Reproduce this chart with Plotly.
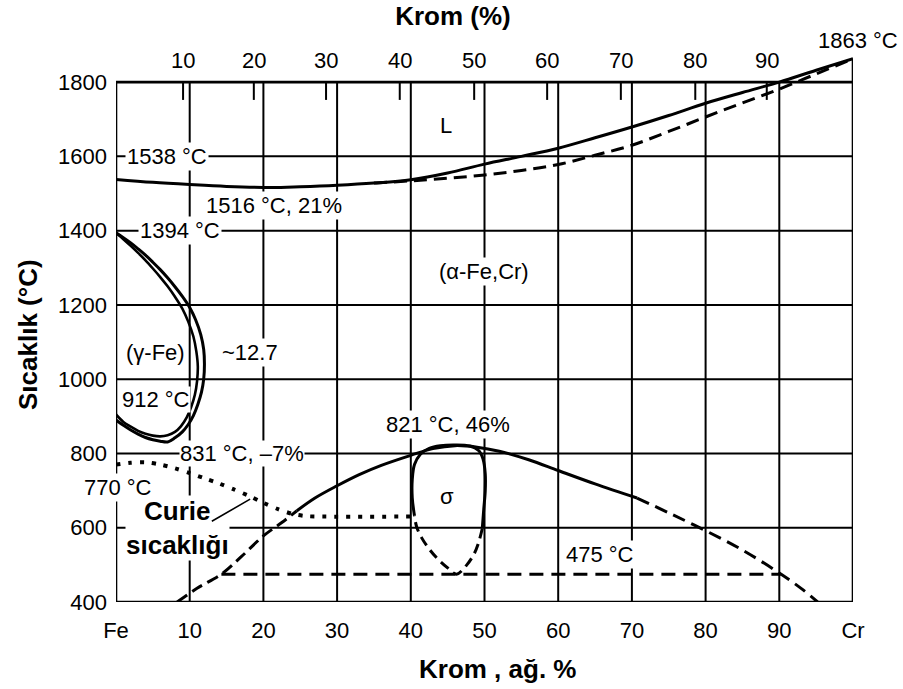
import plotly.graph_objects as go

# ---- axis / tick data -------------------------------------------------
temp_ticks = [400, 600, 800, 1000, 1200, 1400, 1600, 1800]
wt_ticks = [0, 10, 20, 30, 40, 50, 60, 70, 80, 90, 100]
wt_labels = ["Fe", "10", "20", "30", "40", "50", "60", "70", "80", "90", "Cr"]
# atomic-% scale along the top, placed on the weight-% axis
at_tick_pos = [9.1, 18.7, 28.5, 38.5, 48.6, 58.5, 68.5, 78.6, 88.3]
at_labels = ["10", "20", "30", "40", "50", "60", "70", "80", "90"]
cr_melt = 1863

# ---- phase boundaries (wt% Cr, °C) -----------------------------------
liq_x = [0, 5, 10, 15, 21, 25, 30, 35, 40, 45, 50, 55, 60, 65, 70, 75, 80, 85, 90, 95, 100]
liq_y = [1538, 1530, 1524, 1519, 1516, 1518, 1522, 1528, 1537, 1555, 1579, 1600, 1622, 1650, 1679, 1710, 1743, 1772, 1800, 1832, 1863]

sol_x = [35, 40, 45, 50, 55, 60, 65, 70, 75, 80, 85, 90, 95, 100]
sol_y = [1528, 1534, 1541, 1550, 1562, 1578, 1603, 1630, 1667, 1706, 1744, 1781, 1822, 1863]

gam_out_x = [0, 1, 2, 3, 4, 5, 6, 7, 8, 9, 10, 10.8, 11.5, 11.9, 12.0, 11.9, 11.6, 11.1, 10.5, 9.8, 9, 8, 7, 6, 5, 4, 3, 2, 1, 0]
gam_out_y = [1394, 1381, 1367, 1351, 1334, 1315, 1295, 1273, 1249, 1223, 1193, 1160, 1120, 1080, 1040, 1000, 965, 932, 902, 878, 858, 842, 831, 833, 837, 843, 852, 863, 876, 890]

gam_in_x = [0, 1, 2, 3, 4, 5, 6, 7, 8, 9, 9.8, 10.5, 10.9, 11.1, 11.0, 10.7, 10.2, 9.6, 8.8, 8, 7, 6, 5, 4, 3, 2, 1, 0]
gam_in_y = [1394, 1377, 1359, 1340, 1320, 1298, 1275, 1250, 1222, 1190, 1155, 1115, 1075, 1035, 995, 958, 925, 897, 873, 858, 849, 846, 848, 853, 861, 872, 885, 905]

curie_x = [0, 2, 4, 6, 8, 10, 12, 14, 16, 18, 20, 22, 24, 26, 28, 40.5]
curie_y = [770, 775, 776, 770, 760, 747, 733, 719, 703, 686, 667, 650, 637, 631, 630, 630]

dome_l_x = [8.3, 11, 14.3, 17, 20, 22.5, 24.5]
dome_l_y = [400, 437, 475, 522, 578, 614, 645]
dome_x = [24.5, 27, 30, 33, 36, 40, 43, 46, 49, 52, 56, 60, 65, 70.7]
dome_y = [645, 680, 713, 743, 768, 795, 813, 821, 817, 806, 783, 754, 718, 680]
dome_r_x = [70.7, 75, 80, 85, 90, 93, 95.2]
dome_r_y = [680, 640, 592, 540, 478, 436, 400]

sig_solid_x = [40.5, 40.2, 40.2, 40.5, 41.3, 42.5, 44, 46, 48, 49.2, 49.8, 50.1, 50.1, 49.9, 49.7]
sig_solid_y = [632, 680, 730, 770, 798, 814, 821, 823, 820, 808, 785, 745, 700, 650, 598]
sig_dash_x = [49.7, 49.2, 48.6, 47.6, 46.2, 45, 43.7, 42.6, 41.5, 40.8, 40.5]
sig_dash_y = [598, 560, 530, 500, 475, 492, 515, 540, 572, 602, 632]

t475_x = [14.3, 90.2]
t475_y = [475, 475]

curie_leader_x = [12.8, 18.2]
curie_leader_y = [615, 677]

FONT = "Liberation Sans, Arial, Helvetica, sans-serif"
INK = "#000000"
TXT = 22     # regular label size
BOLD = 26    # axis titles and the Curie label

fig = go.Figure()


def add_line(x, y, width=3, dash="solid", shape="spline", smoothing=1.0):
    fig.add_trace(go.Scatter(
        x=x, y=y, mode="lines", hoverinfo="skip", showlegend=False,
        line=dict(color=INK, width=width, dash=dash, shape=shape,
                  smoothing=smoothing if shape == "spline" else None),
    ))


# grid lines and frame
gx, gy = [], []
for t in temp_ticks:
    gx += [wt_ticks[0], wt_ticks[-1], None]
    gy += [t, t, None]
for w in wt_ticks[1:-1]:
    gx += [w, w, None]
    gy += [temp_ticks[0], temp_ticks[-1], None]
add_line(gx, gy, width=2, shape="linear")

fx = [wt_ticks[0], wt_ticks[0], None, wt_ticks[-1], wt_ticks[-1], None,
      wt_ticks[0], wt_ticks[-1], None, wt_ticks[0], wt_ticks[-1]]
fy = [temp_ticks[0], temp_ticks[-1], None, temp_ticks[0], cr_melt, None,
      temp_ticks[0], temp_ticks[0], None, temp_ticks[-1], temp_ticks[-1]]
add_line(fx, fy, width=2.6, shape="linear")

# atomic-% ticks hanging from the top edge
tick_drop = 48
tx, ty = [], []
for p in at_tick_pos:
    tx += [p, p, None]
    ty += [temp_ticks[-1], temp_ticks[-1] - tick_drop, None]
add_line(tx, ty, width=2, shape="linear")

# phase boundaries
add_line(liq_x, liq_y, width=3)
add_line(sol_x, sol_y, width=3, dash="13px,7px")
add_line(gam_out_x, gam_out_y, width=3)
add_line(gam_in_x, gam_in_y, width=2.6)
add_line(curie_x, curie_y, width=4, dash="4px,8px", smoothing=0.8)
add_line(dome_l_x, dome_l_y, width=3, dash="12px,6px")
add_line(dome_x, dome_y, width=3)
add_line(dome_r_x, dome_r_y, width=3, dash="13px,7px")
add_line(sig_solid_x, sig_solid_y, width=3)
add_line(sig_dash_x, sig_dash_y, width=3, dash="10px,6px")
add_line(t475_x, t475_y, width=3, dash="14px,8px", shape="linear")

annotations = []


def label(text, x, y, size=TXT, bold=False, **kw):
    d = dict(text=f"<b>{text}</b>" if bold else text, x=x, y=y,
             xref="x", yref="y", xanchor="center", yanchor="middle",
             showarrow=False, font=dict(family=FONT, size=size, color=INK),
             bgcolor="white", borderpad=1)
    d.update(kw)
    annotations.append(d)


label("1538 °C", 6.9, 1600)
label("1516 °C, 21%", 21.4, 1469)
label("L", 44.8, 1684)
label("1394 °C", 8.7, 1400)
label("(α-Fe,Cr)", 49.9, 1289)
label("(γ-Fe)", 5.3, 1073)
label("~12.7", 18.2, 1073)
label("912 °C", 5.4, 944, borderpad=0)
label("831 °C, –7%", 17.1, 800, borderpad=0)
label("770 °C", 0.3, 707)
label("Curie<br>sıcaklığı", 8.4, 599, size=BOLD, bold=True, borderpad=0)
label("821 °C, 46%", 45.0, 877)
label("σ", 44.9, 683)
label("475 °C", 65.7, 527)

# leader from the Curie label to the dotted curve
annotations.append(dict(
    text="", x=curie_leader_x[1], y=curie_leader_y[1], xref="x", yref="y",
    ax=curie_leader_x[0], ay=curie_leader_y[0], axref="x", ayref="y",
    showarrow=True, arrowhead=0, arrowwidth=1.6, arrowcolor=INK,
))

# atomic-% tick labels above the frame
for p, t in zip(at_tick_pos, at_labels):
    annotations.append(dict(
        text=t, x=p, y=temp_ticks[-1], xref="x", yref="y",
        xanchor="center", yanchor="bottom", yshift=7, showarrow=False,
        font=dict(family=FONT, size=TXT, color=INK),
    ))

annotations.append(dict(
    text="1863 °C", x=1.0068, y=1.02, xref="paper", yref="paper",
    xanchor="center", yanchor="middle", showarrow=False,
    font=dict(family=FONT, size=TXT, color=INK),
))
annotations.append(dict(
    text="<b>Sıcaklık (°C)</b>", x=-0.1194, y=0.4855, xref="paper", yref="paper",
    xanchor="center", yanchor="middle", textangle=-90, showarrow=False,
    font=dict(family=FONT, size=BOLD, color=INK),
))
annotations.append(dict(
    text="<b>Krom , ağ. %</b>", x=0.5183, y=-0.1218, xref="paper", yref="paper",
    xanchor="center", yanchor="middle", showarrow=False,
    font=dict(family=FONT, size=BOLD, color=INK),
))

fig.update_layout(
    width=903, height=689,
    margin=dict(l=116, r=50, t=52, b=87),
    paper_bgcolor="white", plot_bgcolor="white",
    title=dict(text="<b>Krom (%)</b>", x=453 / 903, y=1 - 16 / 689,
               xref="container", yref="container", xanchor="center", yanchor="middle",
               font=dict(family=FONT, size=BOLD, color=INK)),
    xaxis=dict(range=[0, 100], tickvals=wt_ticks, ticktext=wt_labels,
               showgrid=False, zeroline=False, showline=False, ticks="",
               tickfont=dict(family=FONT, size=TXT, color=INK), ticklabelstandoff=13),
    yaxis=dict(range=[400, 1881], tickvals=temp_ticks,
               showgrid=False, zeroline=False, showline=False, ticks="",
               tickfont=dict(family=FONT, size=TXT, color=INK), ticklabelstandoff=8),
    annotations=annotations,
    showlegend=False,
)

fig.write_html("out.html")
